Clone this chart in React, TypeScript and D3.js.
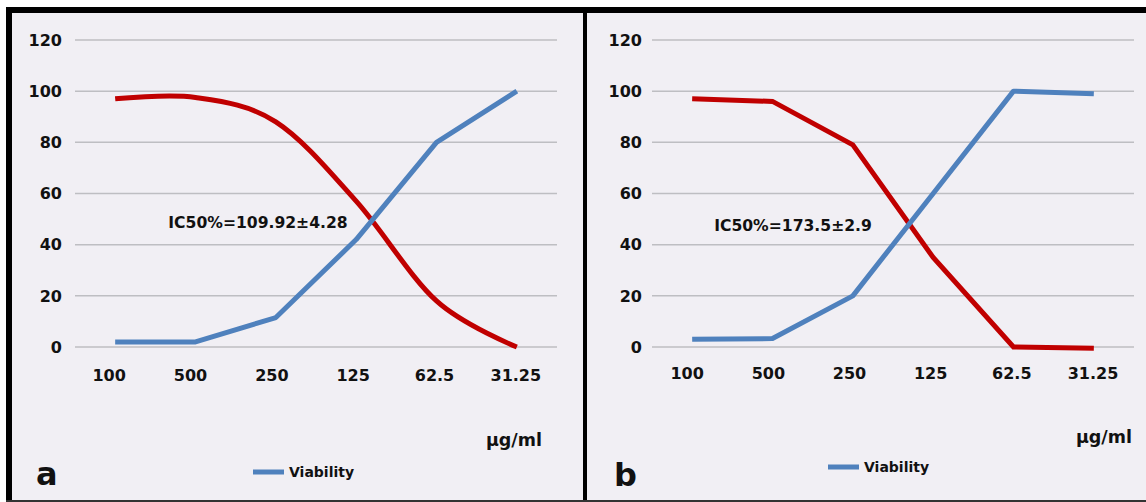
import React from 'react';
import * as d3 from 'd3';

// chart values
const doses = ['100', '500', '250', '125', '62.5', '31.25'];
const yTicks = [0, 20, 40, 60, 80, 100, 120];

const viabilityA = [2, 2, 11.5, 42, 80, 100];
const inhibitionA = [97, 97.5, 88, 57, 18, 0];
const viabilityB = [3, 3.3, 20, 60, 100, 99];
const inhibitionB = [97, 96, 79, 35, 0, -0.5];

const panelLetters = ['a', 'b'];
const ic50Labels = ['IC50%=109.92±4.28', 'IC50%=173.5±2.9'];
const unitLabel = 'µg/ml';
const legendLabel = 'Viability';

const W = 1146;
const H = 502;
const FONT = '"DejaVu Sans", sans-serif';
const BG = '#F1EFF4';
const RED = '#C00000';
const BLUE = '#4F81BD';

const panels = [
  {
    left: 75, right: 557, tickX: 62, xLabelShift: -6, xLabelY: 381,
    viability: viabilityA, inhibition: inhibitionA, smooth: true,
    ic50X: 258, ic50Y: 228, unitX: 542, unitY: 446,
    legX: 253, legY: 472, letterX: 36, letterY: 485,
    letter: panelLetters[0], ic50: ic50Labels[0],
  },
  {
    left: 652, right: 1134, tickX: 642, xLabelShift: -5, xLabelY: 379,
    viability: viabilityB, inhibition: inhibitionB, smooth: false,
    ic50X: 793, ic50Y: 231, unitX: 1132, unitY: 443,
    legX: 828, legY: 467, letterX: 614, letterY: 486,
    letter: panelLetters[1], ic50: ic50Labels[1],
  },
];

const y = d3.scaleLinear().domain([0, 120]).range([347, 40]);

function Panel({ p }: { p: any }) {
  const x = d3.scalePoint<string>().domain(doses).range([p.left, p.right]).padding(0.5);
  const pts = (vals: number[]) => doses.map((d, i) => [x(d) as number, y(vals[i])] as [number, number]);
  const straight = d3.line();
  const curved = d3.line().curve(d3.curveCardinal.tension(0));

  return (
    <g>
      {yTicks.map(t => (
        <g key={t}>
          <line x1={p.left} x2={p.right} y1={y(t)} y2={y(t)} stroke="#BEBEC2" strokeWidth={1.5} />
          <text x={p.tickX} y={y(t)} dy="0.36em" textAnchor="end" fontSize={16} fontWeight="bold" fill="#111">{t}</text>
        </g>
      ))}
      {doses.map((d, i) => (
        <text key={d} x={(x(d) as number) + p.xLabelShift * (1 - i / 6)} y={p.xLabelY} textAnchor="middle"
          fontSize={16} fontWeight="bold" fill="#111">{d}</text>
      ))}
      <path d={(p.smooth ? curved : straight)(pts(p.inhibition)) || ''} fill="none" stroke={RED} strokeWidth={5} />
      <path d={straight(pts(p.viability)) || ''} fill="none" stroke={BLUE} strokeWidth={5} strokeLinejoin="round" />
      <text x={p.ic50X} y={p.ic50Y} textAnchor="middle" fontSize={15.6} fontWeight="bold" fill="#111">{p.ic50}</text>
      <text x={p.unitX} y={p.unitY} textAnchor="end" fontSize={17.5} fontWeight="bold" fill="#111">{unitLabel}</text>
      <line x1={p.legX} x2={p.legX + 31} y1={p.legY} y2={p.legY} stroke={BLUE} strokeWidth={5} />
      <text x={p.legX + 36} y={p.legY} dy="0.36em" fontSize={14} fontWeight="bold" fill="#111">{legendLabel}</text>
      <text x={p.letterX} y={p.letterY} fontSize={32} fontWeight="bold" fill="#111">{p.letter}</text>
    </g>
  );
}

export default function App() {
  return (
    <svg width={W} height={H} viewBox={`0 0 ${W} ${H}`} fontFamily={FONT}
      style={{ position: 'absolute', left: 0, top: 0, display: 'block' }}>
      <rect width={W} height={H} fill="#fff" />
      <rect x={6} y={7} width={W - 6} height={H - 7} fill={BG} />
      {/* frame */}
      <rect x={6} y={7} width={W - 6} height={6} fill="#000" />
      <rect x={6} y={7} width={6} height={H - 9} fill="#000" />
      <rect x={583} y={7} width={4} height={H - 7} fill="#000" />
      <rect x={6} y={500} width={W - 6} height={2} fill="#333" />
      {panels.map((p, i) => <Panel key={i} p={p} />)}
    </svg>
  );
}
